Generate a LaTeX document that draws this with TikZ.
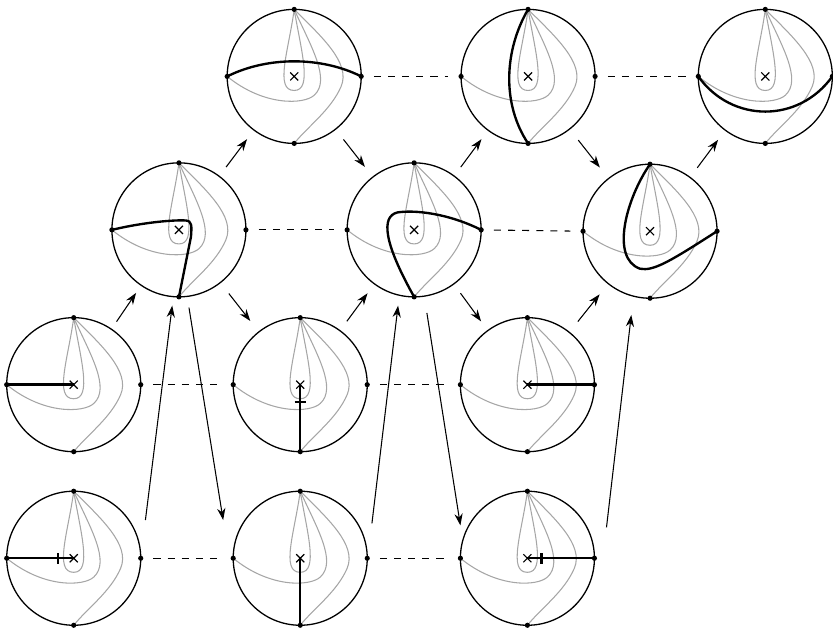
\documentclass[tikz,border=0pt]{standalone}
\usepackage{tikz}
\usetikzlibrary{arrows.meta, positioning, calc}

\tikzset{
  disc/.style={circle, draw, line width=0.55pt, minimum size=2cm, inner sep=0pt},
  level/.style={black!35, line width=0.45pt},
  trace/.style={line width=1pt},
  link/.style={-{Stealth[length=5pt, width=3.5pt]}, line width=0.45pt},
  pairing/.style={dashed, line width=0.45pt, shorten <=0.18cm, shorten >=0.18cm},
  pics/landscape/.style={code={
    \draw[level] (0,1) .. controls (-0.08,0.4) and (-0.3,-0.21) .. (0,-0.21)
                       .. controls (0.28,-0.21) and (0.1,0.4) .. (0,1);
    \draw[level] (0,1) .. controls (0.25,0.45) and (0.55,-0.05) .. (0.3,-0.28)
                       .. controls (0.15,-0.42) and (-0.45,-0.45) .. (-1,0);
    \draw[level] (0,1) .. controls (0.4,0.6) and (0.85,0.2) .. (0.7,-0.15)
                       .. controls (0.55,-0.5) and (0.2,-0.75) .. (0,-1);
  }},
  pics/marks/.style={code={
    \draw[line width=0.5pt] (-0.06,-0.06) -- (0.06,0.06) (-0.06,0.06) -- (0.06,-0.06);
    \foreach \a in {0,90,180,270} \fill (\a:1) circle (1.1pt);
  }}
}

\begin{document}
\begin{tikzpicture}
\useasboundingbox (0,0) rectangle (12.43,-9.43);
% Discs with level curves
\foreach \n/\x/\y in {c11/4.39/-1.14, c12/7.88/-1.14, c13/11.42/-1.14,
                      c21/2.67/-3.43, c22/6.18/-3.43, c23/9.70/-3.45,
                      c31/1.10/-5.74, c32/4.48/-5.74, c33/7.87/-5.74,
                      c41/1.10/-8.33, c42/4.48/-8.33, c43/7.87/-8.33}{
  \pic at (\x,\y) {landscape};
  \node[disc] (\n) at (\x,\y) {};
}
% Thick paths
\draw[trace, shift={(c11.center)}] (-1,0) .. controls (-0.4,0.3) and (0.4,0.3) .. (1,0);
\draw[trace, shift={(c12.center)}] (0,1) .. controls (-0.35,0.4) and (-0.4,-0.4) .. (0,-1);
\draw[trace, shift={(c13.center)}] (-1,0) .. controls (-0.5,-0.7) and (0.5,-0.7) .. (1,0);
\draw[trace, shift={(c21.center)}] (-1,0) .. controls (-0.5,0.12) and (-0.05,0.15) .. (0.1,0.14)
                                   .. controls (0.2,0.135) and (0.19,0.05) .. (0.18,-0.1) -- (0,-1);
\draw[trace, shift={(c22.center)}] (1,0) .. controls (0.5,0.25) and (0,0.3) .. (-0.25,0.26)
                                   .. controls (-0.5,0.2) and (-0.45,-0.2) .. (0,-1);
\draw[trace, shift={(c23.center)}] (0,1) .. controls (-0.35,0.5) and (-0.6,-0.4) .. (-0.15,-0.56)
                                   .. controls (0.05,-0.6) and (0.3,-0.45) .. (1,0);
\draw[trace] (c31.west) -- (c31.center);
\draw[trace] (c32.south) -- (c32.center);
\draw[trace] (c33.east) -- (c33.center);
\draw[trace] (c41.west) -- (c41.center);
\draw[trace] (c42.south) -- (c42.center);
\draw[trace] (c43.east) -- (c43.center);
% Ticks
\draw[trace, shift={(c32.center)}] (-0.085,-0.26) -- (0.085,-0.26);
\draw[trace, shift={(c41.center)}] (-0.23,-0.085) -- (-0.23,0.085);
\draw[trace, shift={(c43.center)}] (0.21,-0.085) -- (0.21,0.085);
% Marked points and centres
\foreach \n in {c11,c12,c13,c21,c22,c23,c31,c32,c33,c41,c42,c43}
  \pic at (\n.center) {marks};
% Dashed pairings
\draw[pairing] (c11.east) -- (c12.west);
\draw[pairing] (c12.east) -- (c13.west);
\draw[pairing] (c21.east) -- (c22.west);
\draw[pairing] (c22.east) -- (c23.west);
\draw[pairing] (c31.east) -- (c32.west);
\draw[pairing] (c32.east) -- (c33.west);
\draw[pairing] (c41.east) -- (c42.west);
\draw[pairing] (c42.east) -- (c43.west);
% Short arrows
\foreach \a/\b in {c31/c21, c21/c11, c11/c22, c22/c12, c12/c23, c23/c13,
                   c21/c32, c32/c22, c22/c33, c33/c23}
  \draw[link] ($(\a)!0.5!(\b)!0.26cm!(\a)$) -- ($(\a)!0.5!(\b)!0.26cm!(\b)$);
% Long arrows
\draw[link] ($(c41)+(1.07,0.57)$) -- ($(c21)+(-0.10,-1.13)$);
\draw[link] ($(c21)+(0.15,-1.16)$) -- ($(c42)+(-1.15,0.57)$);
\draw[link] ($(c42)+(1.07,0.52)$) -- ($(c22)+(-0.24,-1.13)$);
\draw[link] ($(c22)+(0.19,-1.24)$) -- ($(c43)+(-1.0,0.49)$);
\draw[link] ($(c43)+(1.18,0.46)$) -- ($(c23)+(-0.28,-1.25)$);
\end{tikzpicture}
\end{document}
